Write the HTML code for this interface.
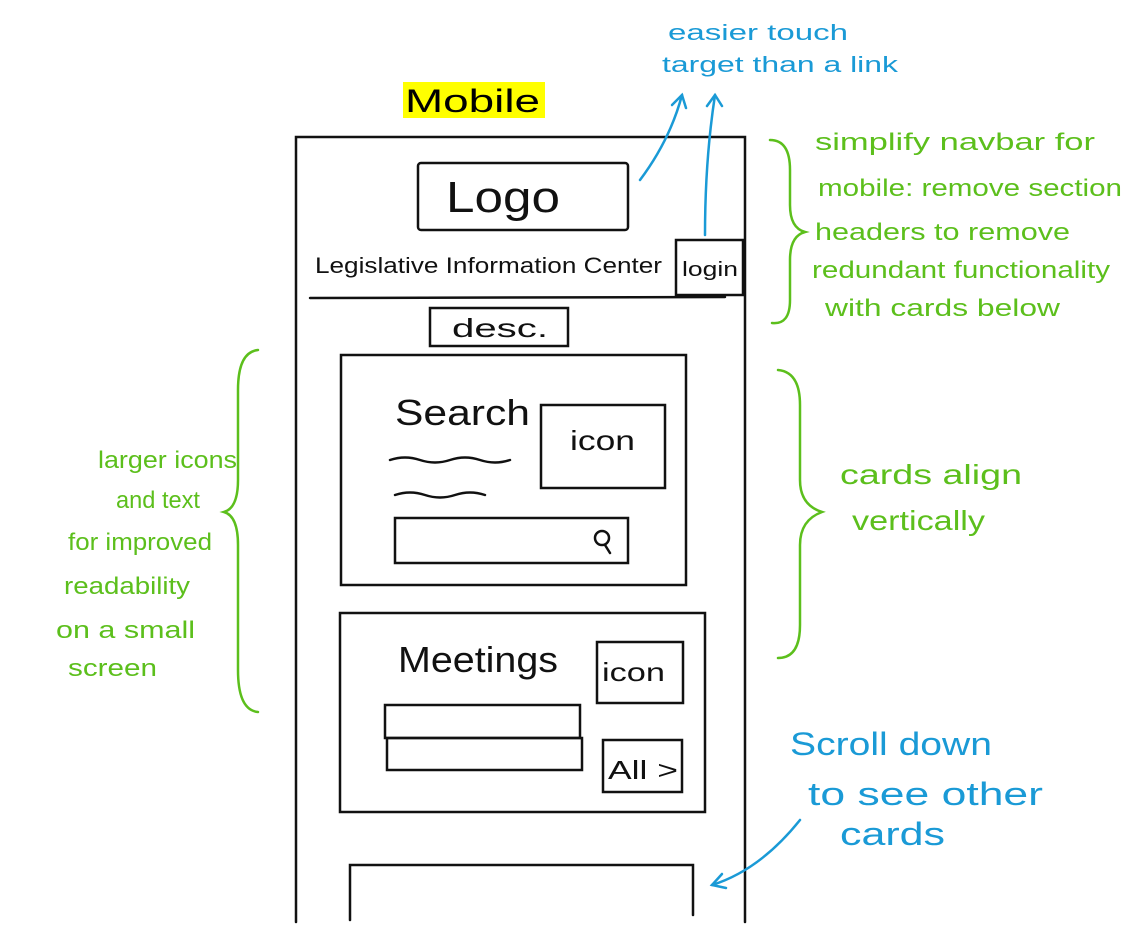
<!DOCTYPE html>
<html><head><meta charset="utf-8"><style>
html,body{margin:0;padding:0;background:#fff;}
svg{display:block}
text{font-family:"Liberation Sans",sans-serif;}
</style></head><body>
<svg width="1146" height="945" viewBox="0 0 1146 945" xmlns="http://www.w3.org/2000/svg">
<rect width="1146" height="945" fill="#fff"/>
<rect x="403" y="82" width="142" height="36" fill="#ffff00"/>
<text x="405" y="112" font-size="32" fill="#000" textLength="135" lengthAdjust="spacingAndGlyphs">Mobile</text>
<g fill="none" stroke="#111" stroke-width="2.5" stroke-linecap="round">
<path d="M296 922 L296 137 L745 137 L745 922"/>
<rect x="418" y="163" width="210" height="67" rx="3"/>
<rect x="676" y="240" width="67" height="55"/>
<path d="M310 298 L725 297"/>
<rect x="430" y="308" width="138" height="38"/>
<rect x="341" y="355" width="345" height="230"/>
<rect x="541" y="405" width="124" height="83"/>
<path d="M390 460 q15 -5 30 0 t30 0 t30 0 t30 0"/>
<path d="M395 495 q15 -5 30 0 t30 0 t30 0"/>
<rect x="395" y="518" width="233" height="45"/>
<circle cx="602" cy="538" r="7"/>
<path d="M605 545 L610 553"/>
<rect x="340" y="613" width="365" height="199"/>
<rect x="597" y="642" width="86" height="61"/>
<rect x="385" y="705" width="195" height="33"/>
<rect x="387" y="738" width="195" height="32"/>
<rect x="603" y="740" width="79" height="52"/>
<path d="M350 920 L350 865 L693 865 L693 915"/>
</g>
<g fill="#111" lengthAdjust="spacingAndGlyphs">
<text x="446" y="212" font-size="44" textLength="114" lengthAdjust="spacingAndGlyphs">Logo</text>
<text x="315" y="273" font-size="22" textLength="347" lengthAdjust="spacingAndGlyphs">Legislative  Information  Center</text>
<text x="682" y="276" font-size="20" textLength="56" lengthAdjust="spacingAndGlyphs">login</text>
<text x="452" y="337" font-size="26" textLength="96" lengthAdjust="spacingAndGlyphs">desc.</text>
<text x="395" y="425" font-size="36" textLength="135" lengthAdjust="spacingAndGlyphs">Search</text>
<text x="570" y="450" font-size="28" textLength="65" lengthAdjust="spacingAndGlyphs">icon</text>
<text x="398" y="672" font-size="36" textLength="160" lengthAdjust="spacingAndGlyphs">Meetings</text>
<text x="602" y="681" font-size="26" textLength="63" lengthAdjust="spacingAndGlyphs">icon</text>
<text x="608" y="779" font-size="26" textLength="70" lengthAdjust="spacingAndGlyphs">All &gt;</text>
</g>
<g fill="#1a9ad6">
<text x="668" y="40" font-size="22" textLength="180" lengthAdjust="spacingAndGlyphs">easier touch</text>
<text x="662" y="72" font-size="22" textLength="236" lengthAdjust="spacingAndGlyphs">target than a link</text>
<text x="790" y="755" font-size="32" textLength="202" lengthAdjust="spacingAndGlyphs">Scroll down</text>
<text x="808" y="805" font-size="32" textLength="235" lengthAdjust="spacingAndGlyphs">to see other</text>
<text x="840" y="845" font-size="32" textLength="105" lengthAdjust="spacingAndGlyphs">cards</text>
</g>
<g fill="none" stroke="#1a9ad6" stroke-width="2.5" stroke-linecap="round">
<path d="M640 180 Q670 140 682 95"/><path d="M672 105 L682 95 L686 108"/>
<path d="M705 235 Q705 160 715 95"/><path d="M707 106 L715 95 L722 106"/>
<path d="M800 820 Q760 870 712 885"/><path d="M722 874 L712 885 L726 888"/>
</g>
<g fill="#5cbf1c" font-size="24">
<text x="815" y="150" textLength="280" lengthAdjust="spacingAndGlyphs">simplify navbar for</text>
<text x="818" y="196" textLength="304" lengthAdjust="spacingAndGlyphs">mobile: remove section</text>
<text x="815" y="240" textLength="255" lengthAdjust="spacingAndGlyphs">headers to remove</text>
<text x="812" y="278" textLength="298" lengthAdjust="spacingAndGlyphs">redundant functionality</text>
<text x="825" y="316" textLength="235" lengthAdjust="spacingAndGlyphs">with cards below</text>
<text x="98" y="468" textLength="139" lengthAdjust="spacingAndGlyphs">larger icons</text>
<text x="116" y="508" textLength="84" lengthAdjust="spacingAndGlyphs">and text</text>
<text x="68" y="550" textLength="144" lengthAdjust="spacingAndGlyphs">for improved</text>
<text x="64" y="594" textLength="126" lengthAdjust="spacingAndGlyphs">readability</text>
<text x="56" y="638" textLength="139" lengthAdjust="spacingAndGlyphs">on a small</text>
<text x="68" y="676" textLength="89" lengthAdjust="spacingAndGlyphs">screen</text>
<text x="840" y="484" font-size="28" textLength="182" lengthAdjust="spacingAndGlyphs">cards align</text>
<text x="852" y="530" font-size="28" textLength="133" lengthAdjust="spacingAndGlyphs">vertically</text>
</g>
<g fill="none" stroke="#5cbf1c" stroke-width="2.5" stroke-linecap="round">
<path d="M770 140 Q790 140 790 170 L790 205 Q790 228 805 232 Q790 236 790 260 L790 300 Q790 325 772 323"/>
<path d="M258 350 Q238 352 238 390 L238 480 Q238 508 224 512 Q238 516 238 545 L238 670 Q238 710 258 712"/>
<path d="M778 370 Q800 372 800 405 L800 480 Q800 505 822 512 Q800 520 800 545 L800 625 Q800 658 778 658"/>
</g>
</svg>
</body></html>
